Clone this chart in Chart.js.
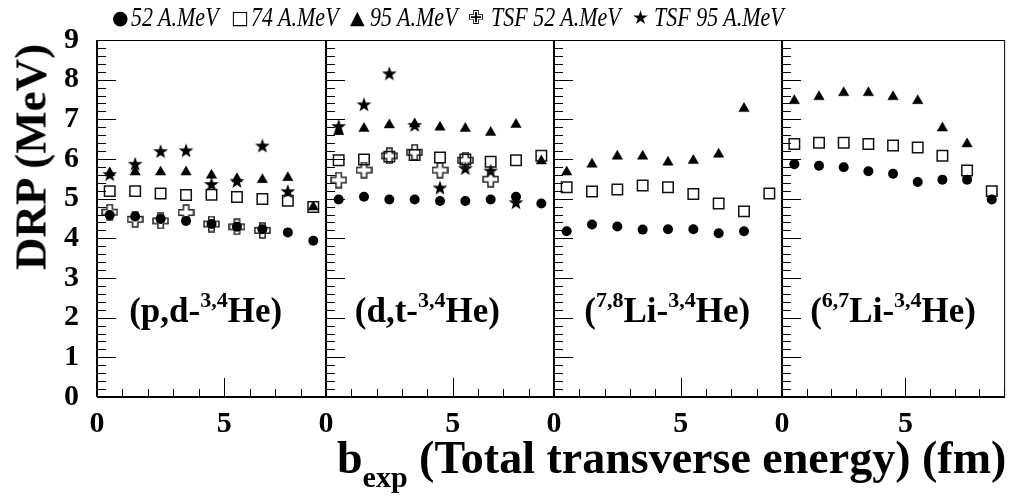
<!DOCTYPE html>
<html>
<head>
<meta charset="utf-8">
<script src="https://cdn.jsdelivr.net/npm/chart.js@4.4.1/dist/chart.umd.min.js"></script>
<style>
  html, body { margin: 0; padding: 0; background: #fff; }
  #wrap { position: relative; width: 1013px; height: 497px; overflow: hidden; font-family: "Liberation Serif", "Times New Roman", serif; color: #000; }
  #wrap canvas { position: absolute; left: 0; top: 0; }
  .lg { position: absolute; top: 2px; font-style: italic; font-size: 22px; line-height: 26px; white-space: nowrap; transform: scaleY(1.2); transform-origin: 0 0; }
  .sym { position: absolute; top: 4px; font-family: "DejaVu Sans", sans-serif; font-size: 19px; line-height: 26px; }
  #ytitle { position: absolute; left: 31px; top: 157px; transform: translate(-50%, -50%) rotate(-90deg); font-weight: bold; font-size: 45px; line-height: 45px; white-space: nowrap; }
  #xtitle { position: absolute; left: 337px; top: 435px; font-weight: bold; font-size: 46px; line-height: 45px; white-space: nowrap; }
  #xtitle sub { font-size: 30px; vertical-align: -14px; line-height: 0; }
</style>
</head>
<body>
<div id="wrap">
  <canvas id="c1" width="1013" height="497"></canvas>
  <canvas id="c2" width="1013" height="497"></canvas>
  <canvas id="c3" width="1013" height="497"></canvas>
  <canvas id="c4" width="1013" height="497"></canvas>

  <span class="sym" style="left:112px">●</span><span class="lg" style="left:131px">52 A.MeV</span>
  <span class="sym" style="left:231px">□</span><span class="lg" style="left:251px">74 A.MeV</span>
  <span class="sym" style="left:350px">▲</span><span class="lg" style="left:370px">95 A.MeV</span>
  <span class="sym" style="left:468px">✙</span><span class="lg" style="left:491px">TSF 52 A.MeV</span>
  <span class="sym" style="left:632px">★</span><span class="lg" style="left:654px">TSF 95 A.MeV</span>

  <div id="ytitle">DRP (MeV)</div>
  <div id="xtitle">b<sub>exp</sub> (Total transverse energy) (fm)</div>
</div>

<script>
// ---- data ----
const bins = [0.5, 1.5, 2.5, 3.5, 4.5, 5.5, 6.5, 7.5, 8.5];
const yTickValues = [0, 1, 2, 3, 4, 5, 6, 7, 8, 9];
const xTickValues = [0, 5];

// (p,d-3,4He)
const pd_52    = [4.59, 4.55, 4.49, 4.44, 4.36, 4.29, 4.23, 4.15, 3.94];
const pd_74    = [5.19, 5.19, 5.13, 5.09, 5.10, 5.04, 4.99, 4.95, 4.79];
const pd_95    = [5.65, 5.67, 5.67, 5.67, 5.59, 5.50, 5.48, 5.53, 4.79];
const pd_tsf52 = [4.66, 4.48, 4.44, 4.65, 4.36, 4.29, 4.20];
const pd_tsf95 = [5.62, 5.88, 6.20, 6.22, 5.37, 5.45, 6.34, 5.19];

// (d,t-3,4He)
const dt_52    = [4.98, 5.05, 4.98, 4.98, 4.94, 4.94, 4.98, 5.05, 4.88];
const dt_74    = [5.97, 5.99, 6.06, 6.10, 6.04, 5.99, 5.93, 5.97, 6.08];
const dt_95    = [6.69, 6.77, 6.86, 6.88, 6.80, 6.77, 6.67, 6.87, 5.95];
const dt_tsf52 = [5.47, 5.72, 6.08, 6.17, 5.72, 5.97, 5.49];
const dt_tsf95 = [6.83, 7.38, 8.16, 6.86, 5.28, 5.77, 5.71, 4.91];

// (7,8Li-3,4He)
const li78_52 = [4.18, 4.35, 4.30, 4.22, 4.23, 4.23, 4.13, 4.18];
const li78_74 = [5.29, 5.18, 5.23, 5.33, 5.29, 5.12, 4.88, 4.68, 5.13];
const li78_95 = [5.67, 5.87, 6.07, 6.07, 5.92, 5.96, 6.12, 7.27];

// (6,7Li-3,4He)
const li67_52 = [5.87, 5.83, 5.79, 5.69, 5.63, 5.42, 5.48, 5.48, 4.98];
const li67_74 = [6.38, 6.41, 6.41, 6.38, 6.34, 6.29, 6.08, 5.71, 5.19];
const li67_95 = [7.47, 7.57, 7.67, 7.67, 7.57, 7.47, 6.78, 6.38];

// panel labels: [text, superscript?]
const labelPD   = [['(p,d-', false], ['3,4', true], ['He)', false]];
const labelDT   = [['(d,t-', false], ['3,4', true], ['He)', false]];
const labelLi78 = [['(', false], ['7,8', true], ['Li-', false], ['3,4', true], ['He)', false]];
const labelLi67 = [['(', false], ['6,7', true], ['Li-', false], ['3,4', true], ['He)', false]];

// ---- marker images ----
function starImage(R, r) {
  const s = Math.ceil(2 * R) + 2;
  const c = document.createElement('canvas');
  c.width = c.height = s;
  const g = c.getContext('2d');
  g.translate(s / 2, s / 2 + 0.1 * R);
  g.beginPath();
  for (let k = 0; k < 10; k++) {
    const a = -Math.PI / 2 + k * Math.PI / 5;
    const rr = k % 2 ? r : R;
    g.lineTo(Math.cos(a) * rr, Math.sin(a) * rr);
  }
  g.closePath();
  g.fillStyle = '#000';
  g.fill();
  return c;
}

function openCrossImage(h, a) {
  const s = 2 * h + 2;
  const c = document.createElement('canvas');
  c.width = c.height = s;
  const g = c.getContext('2d');
  g.translate(s / 2, s / 2);
  const p = [[-a,-h],[a,-h],[a,-a],[h,-a],[h,a],[a,a],[a,h],[-a,h],[-a,a],[-h,a],[-h,-a],[-a,-a]];
  g.beginPath();
  p.forEach(([x, y], i) => i ? g.lineTo(x, y) : g.moveTo(x, y));
  g.closePath();
  g.strokeStyle = '#222';
  g.lineWidth = 1.5;
  g.stroke();
  return c;
}

const STAR = starImage(7.8, 3.1);
const OCROSS = openCrossImage(7.5, 2.7);

const pts = vals => vals.map((v, i) => ({ x: bins[i], y: v }));

function dsCircle(v)   { return { data: pts(v), pointStyle: 'circle', pointRadius: 5, backgroundColor: '#000', borderColor: '#000', borderWidth: 0 }; }
function dsSquare(v)   { return { data: pts(v), pointStyle: 'rect', pointRadius: 7.4, backgroundColor: 'rgba(0,0,0,0)', borderColor: '#111', borderWidth: 1.5 }; }
function dsTriangle(v) { return { data: pts(v), pointStyle: 'triangle', pointRadius: 6, backgroundColor: '#000', borderColor: '#000', borderWidth: 0.5 }; }
function dsCross(v)    { return { data: pts(v), pointStyle: OCROSS, pointRadius: 7 }; }
function dsStar(v)     { return { data: pts(v), pointStyle: STAR, pointRadius: 7 }; }

// frame, inward ticks (ROOT style) and the panel label
const panelDeco = {
  id: 'panelDeco',
  afterDraw(chart, args, opts) {
    const { ctx, chartArea: a, scales: { x, y } } = chart;
    ctx.save();
    ctx.strokeStyle = '#000';
    ctx.lineWidth = 1;
    ctx.beginPath();
    for (let i = 0; i <= 45; i++) {
      const py = Math.round(y.getPixelForValue(i * 0.2)) + 0.5;
      const len = i % 5 === 0 ? 19 : 9;
      ctx.moveTo(a.left, py); ctx.lineTo(a.left + len, py);
    }
    for (let v = 0; v <= 9; v++) {
      const px = Math.round(x.getPixelForValue(v)) + 0.5;
      const len = v % 5 === 0 ? 19 : 8;
      ctx.moveTo(px, a.bottom); ctx.lineTo(px, a.bottom - len);
    }
    ctx.stroke();
    ctx.strokeRect(a.left + 0.5, a.top + 0.5, a.right - a.left, a.bottom - a.top);
    ctx.lineWidth = 2;
    ctx.beginPath();
    ctx.moveTo(a.left, a.top); ctx.lineTo(a.left, a.bottom);
    ctx.moveTo(a.left, a.bottom); ctx.lineTo(a.right, a.bottom);
    ctx.stroke();

    // label
    const big = 'bold 35px "Liberation Serif", serif';
    const sup = 'bold 22px "Liberation Serif", serif';
    let w = 0;
    opts.label.forEach(([t, s]) => { ctx.font = s ? sup : big; w += ctx.measureText(t).width; });
    let cx = x.getPixelForValue(opts.labelX) - w / 2;
    const base = y.getPixelForValue(1.9);
    ctx.fillStyle = '#000';
    ctx.textBaseline = 'alphabetic';
    ctx.textAlign = 'left';
    opts.label.forEach(([t, s]) => {
      ctx.font = s ? sup : big;
      ctx.fillText(t, cx, s ? base - 15 : base);
      cx += ctx.measureText(t).width;
    });
    ctx.restore();
  }
};

const TOP = 40, BOTTOM = 397;

function makePanel(id, left, right, datasets, label, labelX, showY) {
  return new Chart(document.getElementById(id), {
    type: 'scatter',
    data: { datasets },
    plugins: [panelDeco],
    options: {
      responsive: false,
      devicePixelRatio: 1,
      animation: false,
      clip: false,
      layout: { padding: { left: 0, right: 1013 - right, top: TOP, bottom: 0 } },
      plugins: {
        legend: { display: false },
        tooltip: { enabled: false },
        panelDeco: { label, labelX }
      },
      elements: { point: { hoverRadius: 0 } },
      scales: {
        x: {
          type: 'linear', min: 0, max: 9,
          grid: { display: false }, border: { display: false },
          afterBuildTicks: s => { s.ticks = xTickValues.map(v => ({ value: v })); },
          afterFit: s => { s.height = 497 - BOTTOM; },
          ticks: { autoSkip: false, maxRotation: 0, padding: 1, color: '#000', font: { family: '"Liberation Serif", serif', size: 30, weight: 'bold' } }
        },
        y: {
          type: 'linear', min: 0, max: 9,
          grid: { display: false }, border: { display: false },
          afterBuildTicks: s => { s.ticks = yTickValues.map(v => ({ value: v })); },
          afterFit: s => { s.width = left; },
          ticks: { display: showY, autoSkip: false, padding: 10, color: '#000', font: { family: '"Liberation Serif", serif', size: 30, weight: 'bold' } }
        }
      }
    }
  });
}

makePanel('c1', 97, 326,
  [dsCircle(pd_52), dsSquare(pd_74), dsTriangle(pd_95), dsCross(pd_tsf52), dsStar(pd_tsf95)],
  labelPD, 4.27, true);
makePanel('c2', 326, 554,
  [dsCircle(dt_52), dsSquare(dt_74), dsTriangle(dt_95), dsCross(dt_tsf52), dsStar(dt_tsf95)],
  labelDT, 4.0, false);
makePanel('c3', 554, 782,
  [dsCircle(li78_52), dsSquare(li78_74), dsTriangle(li78_95)],
  labelLi78, 4.47, false);
makePanel('c4', 782, 1010,
  [dsCircle(li67_52), dsSquare(li67_74), dsTriangle(li67_95)],
  labelLi67, 4.5, false);
</script>
</body>
</html>
